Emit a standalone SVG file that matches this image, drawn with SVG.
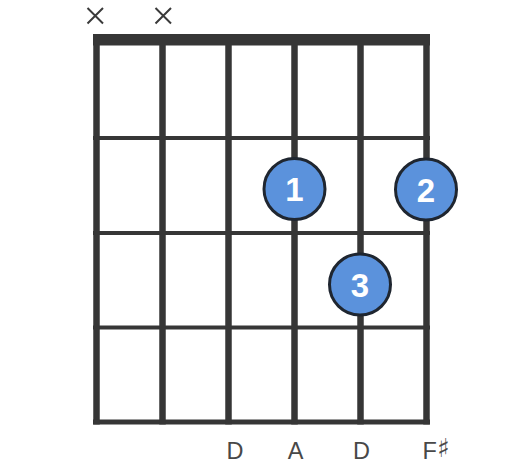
<svg xmlns="http://www.w3.org/2000/svg" width="526" height="474" viewBox="0 0 526 474">
<style>
.str{stroke:#363636;stroke-width:6.5;fill:none}
.fret{stroke:#363636;stroke-width:4;fill:none}
.mute{stroke:#3a3a3a;stroke-width:2;fill:none}
.dot{fill:#5b92dc;stroke:#1f2630;stroke-width:3}
.num{font-family:"Liberation Sans",Arial,sans-serif;font-weight:bold;font-size:33px;fill:#ffffff;text-anchor:middle}
.lbl{font-family:"Liberation Sans",Arial,sans-serif;font-size:23.5px;fill:#484848;text-anchor:middle}
</style>
<rect width="526" height="474" fill="#ffffff"/>
<g id="grid">
<line class="fret" x1="93" y1="138" x2="430" y2="138"/>
<line class="fret" x1="93" y1="233" x2="430" y2="233"/>
<line class="fret" x1="93" y1="327.5" x2="430" y2="327.5"/>
<line class="fret" x1="93" y1="422" x2="430" y2="422" style="stroke-width:5"/>
<line class="str" x1="96.5" y1="34" x2="96.5" y2="424.5"/>
<line class="str" x1="162.5" y1="34" x2="162.5" y2="424.5"/>
<line class="str" x1="228.5" y1="34" x2="228.5" y2="424.5"/>
<line class="str" x1="294.5" y1="34" x2="294.5" y2="424.5"/>
<line class="str" x1="360.5" y1="34" x2="360.5" y2="424.5"/>
<line class="str" x1="426.5" y1="34" x2="426.5" y2="424.5"/>
<rect id="nut" x="93" y="34" width="337" height="11.5" fill="#363636"/>
</g>
<g id="mutes">
<path class="mute" d="M87.5 8 L103 23.5 M103 8 L87.5 23.5"/>
<path class="mute" d="M155.5 8 L171 23.5 M171 8 L155.5 23.5"/>
</g>
<g id="connectors"></g>
<g id="finger1">
<circle class="dot" cx="294.5" cy="189" r="30.5"/>
<text class="num" x="294.5" y="201">1</text>
</g>
<g id="finger2">
<circle class="dot" cx="426" cy="189.5" r="30.5"/>
<text class="num" x="426" y="201.5">2</text>
</g>
<g id="finger3">
<circle class="dot" cx="360" cy="284.5" r="30.5"/>
<text class="num" x="360" y="296.5">3</text>
</g>
<g id="labels">
<text class="lbl" x="235" y="458.5">D</text>
<text class="lbl" x="295.5" y="458.5">A</text>
<text class="lbl" x="361.5" y="458.5">D</text>
<text class="lbl" x="436" y="458.5">F<tspan font-size="26" dy="-2" font-family="DejaVu Sans, sans-serif">♯</tspan></text>
</g>
</svg>
